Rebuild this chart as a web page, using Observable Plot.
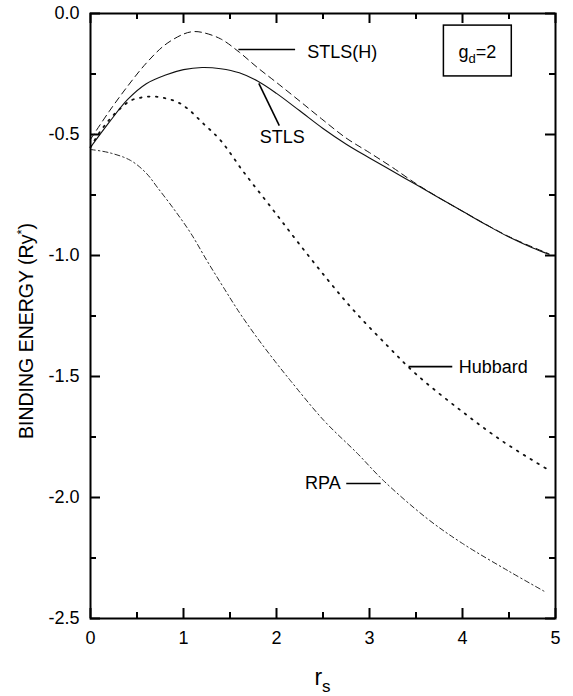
<!DOCTYPE html>
<html><head><meta charset="utf-8">
<script src="https://cdn.jsdelivr.net/npm/d3@7"></script>
<script src="https://cdn.jsdelivr.net/npm/@observablehq/plot@0.6"></script>
<style>body{margin:0;background:#fff} svg{display:block}</style>
</head><body><div id="chart"></div>
<script>
// Series values (r_s, binding energy in Ry*)
const rsSTLSH = [0, 0.2, 0.4, 0.6, 0.8, 1.0, 1.1, 1.2, 1.4, 1.6, 1.8, 2.0, 2.25, 2.5, 2.75, 3.0, 3.25, 3.5, 3.75, 4.0, 4.5, 4.93];
const eSTLSH  = [-0.52, -0.405, -0.3, -0.205, -0.13, -0.085, -0.075, -0.078, -0.105, -0.16, -0.225, -0.285, -0.362, -0.44, -0.515, -0.575, -0.637, -0.703, -0.762, -0.817, -0.922, -0.993];

const rsSTLS = [0, 0.2, 0.4, 0.6, 0.8, 1.0, 1.2, 1.4, 1.6, 1.8, 2.0, 2.25, 2.5, 2.75, 3.0, 3.25, 3.5, 3.75, 4.0, 4.25, 4.5, 4.75, 4.93];
const eSTLS  = [-0.553, -0.45, -0.355, -0.29, -0.255, -0.232, -0.223, -0.228, -0.245, -0.28, -0.33, -0.402, -0.475, -0.54, -0.597, -0.652, -0.707, -0.762, -0.817, -0.872, -0.924, -0.968, -0.995];

const rsHubbard = [0, 0.1, 0.2, 0.3, 0.43, 0.55, 0.68, 0.8, 0.93, 1.05, 1.2, 1.4, 1.65, 1.94, 2.24, 2.55, 2.83, 3.19, 3.5, 3.98, 4.44, 4.92];
const eHubbard  = [-0.553, -0.49, -0.44, -0.4, -0.36, -0.347, -0.343, -0.35, -0.365, -0.395, -0.45, -0.525, -0.657, -0.8, -0.95, -1.1, -1.227, -1.372, -1.49, -1.64, -1.77, -1.885];

const rsRPA = [0, 0.2, 0.43, 0.6, 0.72, 0.9, 1.08, 1.25, 1.43, 1.6, 1.79, 2.0, 2.15, 2.51, 2.87, 3.15, 3.62, 4.0, 4.5, 4.89];
const eRPA  = [-0.562, -0.575, -0.607, -0.66, -0.719, -0.81, -0.909, -1.02, -1.132, -1.235, -1.339, -1.445, -1.517, -1.682, -1.818, -1.93, -2.087, -2.19, -2.305, -2.39];

// Ticks
const xMajor = [0, 1, 2, 3, 4, 5];
const xMinor = [0.5, 1.5, 2.5, 3.5, 4.5];
const yMajor = [0, -0.5, -1.0, -1.5, -2.0, -2.5];
const yMinor = [-0.25, -0.75, -1.25, -1.75, -2.25];

// Curve labels and leaders (data coordinates)
const labelNames = ["STLS(H)", "STLS", "Hubbard", "RPA"];
const labelX = [2.33, 1.82, 3.96, 2.69];
const labelY = [-0.162, -0.512, -1.463, -1.942];
const labelAnchor = ["start", "start", "start", "end"];
const leadX1 = [1.59, 1.81, 3.42, 2.75];
const leadY1 = [-0.149, -0.289, -1.459, -1.942];
const leadX2 = [2.20, 2.03, 3.89, 3.12];
const leadY2 = [-0.149, -0.463, -1.459, -1.942];

// Parameter box
const boxX = [3.80, 4.53];
const boxY = [-0.05, -0.26];

const toRows = (xs, ys) => xs.map((x, i) => ({x, y: ys[i]}));
const labels = labelNames.map((t, i) => ({t, x: labelX[i], y: labelY[i], a: labelAnchor[i]}));
const leaders = leadX1.map((x1, i) => ({x1, y1: leadY1[i], x2: leadX2[i], y2: leadY2[i]}));

const W = 573, H = 696, mL = 90, mR = 18, mT = 13, mB = 78;
const fw = W - mL - mR, fh = H - mT - mB;

const chart = Plot.plot({
  width: W, height: H,
  marginLeft: mL, marginRight: mR, marginTop: mT, marginBottom: mB,
  style: {fontFamily: "'Liberation Sans', Arial, sans-serif", fontSize: "18px", color: "#000", background: "#fff"},
  x: {domain: [0, 5]},
  y: {domain: [-2.5, 0]},
  marks: [
    Plot.axisX({ticks: xMajor, tickSize: 0, tickPadding: 13, tickFormat: d => String(d), label: null, fontSize: 18}),
    Plot.axisY({ticks: yMajor, tickSize: 0, tickPadding: 11, tickFormat: d => d.toFixed(1), label: null, fontSize: 18}),
    // inward ticks on all four sides
    Plot.tickX(xMajor, {x: d => d, insetTop: fh - 10, strokeWidth: 2}),
    Plot.tickX(xMajor, {x: d => d, insetBottom: fh - 10, strokeWidth: 2}),
    Plot.tickX(xMinor, {x: d => d, insetTop: fh - 6, strokeWidth: 2}),
    Plot.tickX(xMinor, {x: d => d, insetBottom: fh - 6, strokeWidth: 2}),
    Plot.tickY(yMajor, {y: d => d, insetRight: fw - 10, strokeWidth: 2}),
    Plot.tickY(yMajor, {y: d => d, insetLeft: fw - 10, strokeWidth: 2}),
    Plot.tickY(yMinor, {y: d => d, insetRight: fw - 6, strokeWidth: 2}),
    Plot.tickY(yMinor, {y: d => d, insetLeft: fw - 6, strokeWidth: 2}),
    // curves
    Plot.line(toRows(rsSTLSH, eSTLSH), {x: "x", y: "y", curve: "catmull-rom", stroke: "#111", strokeWidth: 1, strokeDasharray: "6.5,4.5"}),
    Plot.line(toRows(rsSTLS, eSTLS), {x: "x", y: "y", curve: "catmull-rom", stroke: "#111", strokeWidth: 1.1}),
    Plot.line(toRows(rsHubbard, eHubbard), {x: "x", y: "y", curve: "catmull-rom", stroke: "#111", strokeWidth: 1.8, strokeDasharray: "1.6,6.4"}),
    Plot.line(toRows(rsRPA, eRPA), {x: "x", y: "y", curve: "catmull-rom", stroke: "#111", strokeWidth: 0.9, strokeDasharray: "5,3,1.5,3"}),
    // leaders and labels
    Plot.link(leaders, {x1: "x1", y1: "y1", x2: "x2", y2: "y2", stroke: "#000", strokeWidth: 1.6}),
    Plot.text(labels.filter(d => d.a === "start"), {x: "x", y: "y", text: "t", textAnchor: "start", fontSize: 18, fill: "#000"}),
    Plot.text(labels.filter(d => d.a === "end"), {x: "x", y: "y", text: "t", textAnchor: "end", fontSize: 18, fill: "#000"}),
    // parameter box
    Plot.rect([0], {x1: () => boxX[0], x2: () => boxX[1], y1: () => boxY[0], y2: () => boxY[1], fill: "none", stroke: "#000", strokeWidth: 1.5}),
    Plot.frame({stroke: "#000", strokeWidth: 2})
  ]
});

document.getElementById("chart").appendChild(chart);

// Rich-text labels (subscripts / superscripts)
const sx = chart.scale("x"), sy = chart.scale("y");
const svg = d3.select(chart);
const ff = "'Liberation Sans', Arial, sans-serif";

const gd = svg.append("text")
  .attr("x", sx.apply((boxX[0] + boxX[1]) / 2))
  .attr("y", sy.apply((boxY[0] + boxY[1]) / 2) + 7)
  .attr("text-anchor", "middle")
  .attr("font-family", ff).attr("font-size", 18).attr("fill", "#000");
gd.append("tspan").text("g");
gd.append("tspan").attr("dy", 5).attr("font-size", 13).text("d");
gd.append("tspan").attr("dy", -5).text("=2");

const xl = svg.append("text")
  .attr("x", (mL + W - mR) / 2)
  .attr("y", 685)
  .attr("text-anchor", "middle")
  .attr("font-family", ff).attr("font-size", 23).attr("fill", "#000");
xl.append("tspan").text("r");
xl.append("tspan").attr("dy", 7).attr("font-size", 17).text("s");

const yl = svg.append("text")
  .attr("transform", "translate(33,331) rotate(-90)")
  .attr("text-anchor", "middle")
  .attr("font-family", ff).attr("font-size", 19.5).attr("fill", "#000");
yl.append("tspan").text("BINDING ENERGY (Ry");
yl.append("tspan").attr("dy", -7).attr("font-size", 13).text("*");
yl.append("tspan").attr("dy", 7).text(")");
</script>
</body></html>
